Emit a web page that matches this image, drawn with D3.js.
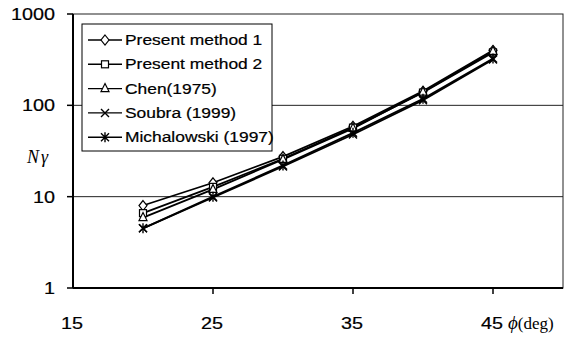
<!DOCTYPE html>
<html lang="en">
<head>
  <meta charset="UTF-8">
  <title>N-gamma vs phi</title>
  <script src="https://d3js.org/d3.v7.min.js"></script>
  <style>
    body { margin: 0; background: white; }
    svg { display: block; }
    .tick-label { font-family: "Liberation Sans", Arial, sans-serif; font-size: 16.5px; fill: black; stroke: black; stroke-width: 0.2px; }
    .legend-label { font-family: "Liberation Sans", Arial, sans-serif; font-size: 14.5px; fill: black; stroke: black; stroke-width: 0.2px; }
  </style>
</head>
<body>
<div id="chart"></div>
<script>
  const phi = [20, 25, 30, 35, 40, 45];
  const seriesNames = ["Present method 1", "Present method 2", "Chen(1975)", "Soubra (1999)", "Michalowski (1997)"];
  const method1 = [8.0, 14.2, 27.5, 59, 143, 400];
  const method2 = [6.6, 12.8, 26.0, 57, 138, 380];
  const chen = [5.9, 12.0, 25.6, 56, 140, 390];
  const soubra = [4.5, 9.8, 21.4, 48, 114, 317];
  const michalowski = [4.5, 10.0, 22.0, 50, 118, 325];
  const xTicks = [15, 25, 35, 45];
  const yTicks = [1, 10, 100, 1000];

  const width = 572, height = 338;
  const margin = { left: 73, right: 9, top: 14, bottom: 50 };

  const svg = d3.select("#chart").append("svg")
    .attr("width", width)
    .attr("height", height);

  const x = d3.scaleLinear().domain([15, 50]).range([margin.left, width - margin.right]);
  const y = d3.scaleLog().domain([1, 1000]).range([height - margin.bottom, margin.top]);

  // stretched text, the original looks widened horizontally
  function addText(tx, ty, str, cls, anchor) {
    return svg.append("text")
      .attr("class", cls)
      .attr("text-anchor", anchor || "start")
      .attr("transform", `translate(${tx},${ty}) scale(1.2,1)`)
      .text(str);
  }

  // grid lines
  svg.append("g").selectAll("line")
    .data([10, 100])
    .enter().append("line")
    .attr("x1", x(15)).attr("x2", x(50))
    .attr("y1", d => y(d)).attr("y2", d => y(d))
    .attr("stroke", "#222").attr("stroke-width", 1);

  // plot frame
  svg.append("rect")
    .attr("x", x(15)).attr("y", y(1000))
    .attr("width", x(50) - x(15)).attr("height", y(1) - y(1000))
    .attr("fill", "none").attr("stroke", "#222").attr("stroke-width", 1);
  svg.append("line")
    .attr("x1", x(15)).attr("x2", x(15)).attr("y1", y(1000)).attr("y2", y(1))
    .attr("stroke", "black").attr("stroke-width", 2);
  svg.append("line")
    .attr("x1", x(15)).attr("x2", x(50)).attr("y1", y(1)).attr("y2", y(1))
    .attr("stroke", "black").attr("stroke-width", 2);

  // y ticks
  yTicks.forEach(t => {
    svg.append("line")
      .attr("x1", x(15) - 6).attr("x2", x(15))
      .attr("y1", y(t)).attr("y2", y(t))
      .attr("stroke", "black").attr("stroke-width", 1.5);
    addText(x(15) - 18, y(t) + 6, t, "tick-label", "end");
  });

  // x ticks
  xTicks.forEach(t => {
    if (t > 15) {
      svg.append("line")
        .attr("x1", x(t)).attr("x2", x(t))
        .attr("y1", y(1)).attr("y2", y(1) + 6)
        .attr("stroke", "black").attr("stroke-width", 1.5);
    }
    addText(x(t) - 1, y(1) + 41, t, "tick-label", "middle");
  });

  // axis titles
  svg.append("text")
    .attr("x", 27).attr("y", 163)
    .style("font-family", "'Liberation Serif', 'DejaVu Serif', serif")
    .style("font-style", "italic")
    .style("font-size", "18px")
    .style("letter-spacing", "2px")
    .text("Nγ");
  const xt = svg.append("text")
    .attr("x", 508).attr("y", y(1) + 41)
    .style("font-family", "'Liberation Serif', 'DejaVu Serif', serif")
    .style("font-size", "17px");
  xt.append("tspan").style("font-style", "italic").style("font-size", "19px").text("ϕ");
  xt.append("tspan").text("(deg)");

  // series
  const series = [method1, method2, chen, soubra, michalowski];
  const symbols = ["diamond", "square", "triangle", "cross", "star"];

  const line = d3.line()
    .x((d, i) => x(phi[i]))
    .y(d => y(d));

  function drawMarker(g, type, cx, cy) {
    const s = 4;
    if (type === "diamond") {
      g.append("path").attr("d", `M${cx},${cy - s - 1}L${cx + s},${cy}L${cx},${cy + s + 1}L${cx - s},${cy}Z`)
        .attr("fill", "white").attr("stroke", "black").attr("stroke-width", 1.2);
    } else if (type === "square") {
      g.append("rect").attr("x", cx - s + 0.5).attr("y", cy - s + 0.5).attr("width", 2 * s - 1).attr("height", 2 * s - 1)
        .attr("fill", "white").attr("stroke", "black").attr("stroke-width", 1.2);
    } else if (type === "triangle") {
      g.append("path").attr("d", `M${cx},${cy - s - 1}L${cx + s},${cy + s - 1}L${cx - s},${cy + s - 1}Z`)
        .attr("fill", "white").attr("stroke", "black").attr("stroke-width", 1.2);
    } else if (type === "cross") {
      g.append("path").attr("d", `M${cx - s},${cy - s}L${cx + s},${cy + s}M${cx - s},${cy + s}L${cx + s},${cy - s}`)
        .attr("stroke", "black").attr("stroke-width", 1.4);
    } else {
      g.append("path").attr("d", `M${cx - s},${cy - s}L${cx + s},${cy + s}M${cx - s},${cy + s}L${cx + s},${cy - s}M${cx},${cy - s - 1}L${cx},${cy + s + 1}`)
        .attr("stroke", "black").attr("stroke-width", 1.4);
    }
  }

  series.forEach((vals, k) => {
    svg.append("path")
      .datum(vals)
      .attr("d", line)
      .attr("fill", "none")
      .attr("stroke", "black")
      .attr("stroke-width", 1.8);
  });
  series.forEach((vals, k) => {
    const g = svg.append("g");
    vals.forEach((v, i) => drawMarker(g, symbols[k], x(phi[i]), y(v)));
  });

  // legend
  const lg = svg.append("g");
  lg.append("rect")
    .attr("x", 82).attr("y", 24).attr("width", 190).attr("height", 127)
    .attr("fill", "white").attr("stroke", "black").attr("stroke-width", 1);
  seriesNames.forEach((name, k) => {
    const ly = 40 + k * 24.3;
    lg.append("line")
      .attr("x1", 88).attr("x2", 122).attr("y1", ly).attr("y2", ly)
      .attr("stroke", "black").attr("stroke-width", 1.4);
    drawMarker(lg, symbols[k], 105, ly);
    addText(125, ly + 5, name, "legend-label", "start");
  });
</script>
</body>
</html>
